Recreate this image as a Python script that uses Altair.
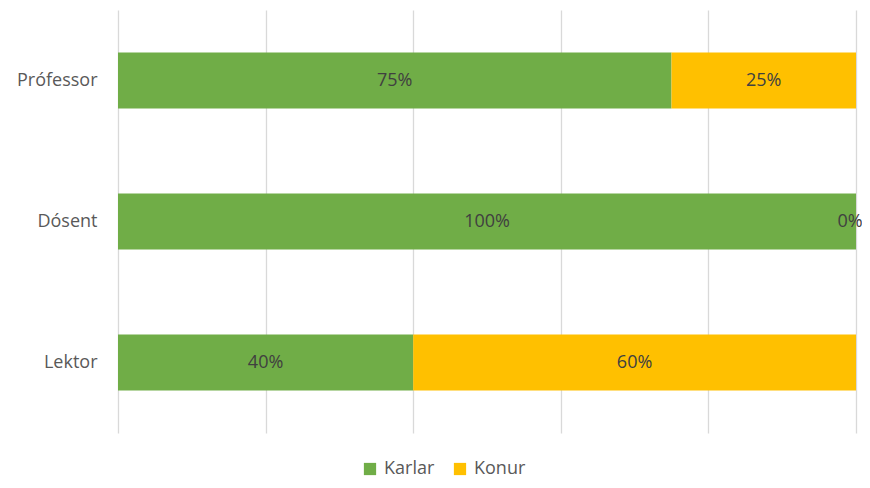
import altair as alt
import pandas as pd

categories = ["Prófessor", "Dósent", "Lektor"]
karlar = [75, 100, 40]
konur = [25, 0, 60]
series = ["Karlar", "Konur"]
colors = ["#70AD47", "#FFC000"]

rows = []
for i, c in enumerate(categories):
    rows.append({"cat": c, "kyn": "Karlar", "ord": 0, "val": karlar[i]})
    rows.append({"cat": c, "kyn": "Konur", "ord": 1, "val": konur[i]})
df = pd.DataFrame(rows)

FONT = "Open Sans"
FS = 18

base = alt.Chart(df).transform_stack(
    stack="val", groupby=["cat"], as_=["x0", "x1"], sort=[alt.SortField("ord", order="ascending")]
).transform_calculate(
    mid="(datum.x0 + datum.x1) / 2",
    lab="datum.val + '%'"
)

y_enc = alt.Y("cat:N", sort=categories, title=None,
              scale=alt.Scale(paddingInner=0.603, paddingOuter=0.3015),
              axis=alt.Axis(domain=False, ticks=False, labelFont=FONT, labelFontSize=FS,
                            labelColor="#595959", labelPadding=21, grid=False))

bars = base.mark_bar().encode(
    x=alt.X("x0:Q", scale=alt.Scale(domain=[0, 100], nice=False), title=None,
            axis=alt.Axis(values=[0, 20, 40, 60, 80, 100], labels=False, ticks=False,
                          domain=False, grid=True, gridColor="#D9D9D9", gridWidth=1.3)),
    x2="x1:Q",
    y=y_enc,
    color=alt.Color("kyn:N", scale=alt.Scale(domain=series, range=colors), title=None,
                    legend=alt.Legend(orient="none", legendX=243, legendY=450, direction="horizontal",
                                      symbolType="square", symbolSize=150, symbolStrokeWidth=0,
                                      labelFont=FONT, labelFontSize=FS, labelColor="#595959",
                                      columnPadding=16, symbolOffset=0, labelOffset=5)),
)

texts = base.transform_filter("datum.val > 0").mark_text(font=FONT, fontSize=FS, color="#404040").encode(
    x="mid:Q",
    y=alt.Y("cat:N", sort=categories),
    text="lab:N",
)

zero_texts = base.transform_filter("datum.val == 0").mark_text(
    font=FONT, fontSize=FS, color="#404040", dx=-6).encode(
    x="mid:Q",
    y=alt.Y("cat:N", sort=categories),
    text="lab:N",
)

chart = (bars + texts + zero_texts).properties(
    width=738, height=423,
    autosize=alt.AutoSizeParams(type="none"),
    padding={"left": 110, "top": 2, "right": 6, "bottom": 47},
).configure_view(stroke=None)

chart.save("out.html", embed_options={"renderer": "svg", "actions": False})
